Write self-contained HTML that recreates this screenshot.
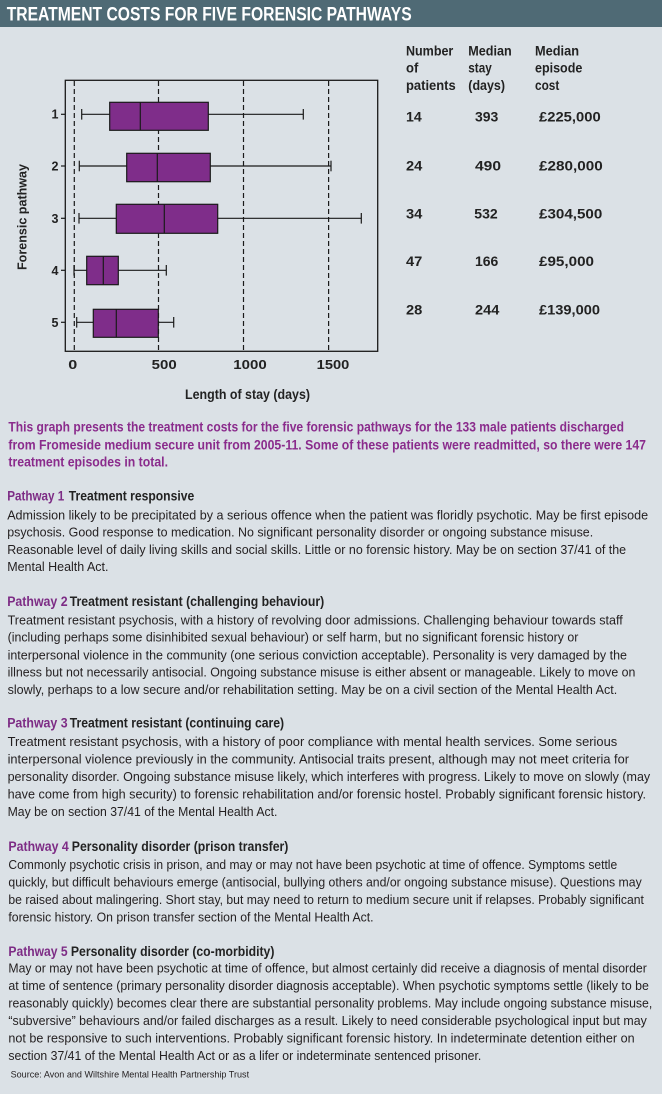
<!DOCTYPE html>
<html>
<head>
<meta charset="utf-8">
<style>
html,body{margin:0;padding:0;background:#dbe1e6;}
svg{display:block;}
text{font-family:"Liberation Sans",Arial,sans-serif;}
.b{font-weight:bold;}
</style>
</head>
<body>
<svg width="662" height="1094" viewBox="0 0 662 1094" xmlns="http://www.w3.org/2000/svg">
<rect x="0" y="0" width="662" height="1094" fill="#dbe1e6"/>
<rect x="0" y="0" width="662" height="27" fill="#4f6a75"/>
<text x="6.7" y="20.7" font-size="19" class="b" fill="#ffffff" textLength="405" lengthAdjust="spacingAndGlyphs">TREATMENT COSTS FOR FIVE FORENSIC PATHWAYS</text>

<!-- plot frame -->
<rect x="65.3" y="80.3" width="312.4" height="271" fill="none" stroke="#1a1a1a" stroke-width="1.3"/>
<g stroke="#1a1a1a" stroke-width="1.2" stroke-dasharray="5 3">
<line x1="74.3" y1="81" x2="74.3" y2="351"/>
<line x1="158.5" y1="81" x2="158.5" y2="351"/>
<line x1="243.5" y1="81" x2="243.5" y2="351"/>
<line x1="328.6" y1="81" x2="328.6" y2="351"/>
</g>

<!-- boxes -->
<g stroke="#1a1a1a" stroke-width="1.2">
<!-- 1 -->
<line x1="81.7" y1="114.3" x2="303.3" y2="114.3"/>
<line x1="81.7" y1="109" x2="81.7" y2="119.6"/>
<line x1="303.3" y1="109" x2="303.3" y2="119.6"/>
<rect x="109.7" y="102.3" width="98.6" height="28" fill="#7f2d8a"/>
<line x1="140.3" y1="102.3" x2="140.3" y2="130.3"/>
<!-- 2 -->
<line x1="79.3" y1="166" x2="331" y2="166"/>
<line x1="79.3" y1="160.7" x2="79.3" y2="171.3"/>
<line x1="331" y1="160.7" x2="331" y2="171.3"/>
<rect x="126.7" y="153.3" width="83.6" height="28.4" fill="#7f2d8a"/>
<line x1="157.3" y1="153.3" x2="157.3" y2="181.7"/>
<!-- 3 -->
<line x1="79" y1="218.3" x2="361.3" y2="218.3"/>
<line x1="79" y1="213" x2="79" y2="223.6"/>
<line x1="361.3" y1="213" x2="361.3" y2="223.6"/>
<rect x="116.3" y="204.3" width="101.4" height="29" fill="#7f2d8a"/>
<line x1="164.3" y1="204.3" x2="164.3" y2="233.3"/>
<!-- 4 -->
<line x1="74" y1="270.3" x2="166.3" y2="270.3"/>
<line x1="74" y1="265" x2="74" y2="275.6"/>
<line x1="166.3" y1="265" x2="166.3" y2="275.6"/>
<rect x="86.7" y="256.3" width="31.6" height="28.4" fill="#7f2d8a"/>
<line x1="103.3" y1="256.3" x2="103.3" y2="284.7"/>
<!-- 5 -->
<line x1="76.7" y1="322.3" x2="173.7" y2="322.3"/>
<line x1="76.7" y1="317" x2="76.7" y2="327.6"/>
<line x1="173.7" y1="317" x2="173.7" y2="327.6"/>
<rect x="93.3" y="309.3" width="65" height="28" fill="#7f2d8a"/>
<line x1="116.3" y1="309.3" x2="116.3" y2="337.3"/>
<!-- y ticks -->
<line x1="61" y1="114.3" x2="65.3" y2="114.3"/>
<line x1="61" y1="166" x2="65.3" y2="166"/>
<line x1="61" y1="218.3" x2="65.3" y2="218.3"/>
<line x1="61" y1="270.3" x2="65.3" y2="270.3"/>
<line x1="61" y1="322.3" x2="65.3" y2="322.3"/>
</g>

<g class="b" font-size="12.5" fill="#222" text-anchor="end">
<text x="58.5" y="118.5">1</text>
<text x="58.5" y="170.3">2</text>
<text x="58.5" y="222.8">3</text>
<text x="58.5" y="275">4</text>
<text x="58.5" y="327">5</text>
</g>
<g class="b" font-size="12.5" fill="#222">
<text x="68.3" y="369" textLength="9" lengthAdjust="spacingAndGlyphs">0</text>
<text x="151.7" y="369" textLength="25" lengthAdjust="spacingAndGlyphs">500</text>
<text x="233.3" y="369" textLength="33.4" lengthAdjust="spacingAndGlyphs">1000</text>
<text x="316.7" y="369" textLength="32.6" lengthAdjust="spacingAndGlyphs">1500</text>
</g>
<text x="185" y="399" font-size="14" class="b" fill="#222" textLength="125" lengthAdjust="spacingAndGlyphs">Length of stay (days)</text>
<text transform="translate(26.7,217) rotate(-90)" text-anchor="middle" font-size="12.5" class="b" fill="#222" textLength="106" lengthAdjust="spacingAndGlyphs">Forensic pathway</text>

<!-- table -->
<g class="b" font-size="14" fill="#222">
<text x="406" y="55.7" textLength="47.3" lengthAdjust="spacingAndGlyphs">Number</text>
<text x="468.3" y="55.7" textLength="43.4" lengthAdjust="spacingAndGlyphs">Median</text>
<text x="535" y="55.7" textLength="44" lengthAdjust="spacingAndGlyphs">Median</text>
<text x="406" y="72.3" textLength="12.3" lengthAdjust="spacingAndGlyphs">of</text>
<text x="468.3" y="72.3" textLength="23.4" lengthAdjust="spacingAndGlyphs">stay</text>
<text x="535" y="72.3" textLength="47.3" lengthAdjust="spacingAndGlyphs">episode</text>
<text x="406" y="90" textLength="49.7" lengthAdjust="spacingAndGlyphs">patients</text>
<text x="468.3" y="90" textLength="36.7" lengthAdjust="spacingAndGlyphs">(days)</text>
<text x="535" y="90" textLength="24.3" lengthAdjust="spacingAndGlyphs">cost</text>

<text x="406" y="121.7" textLength="15.7" lengthAdjust="spacingAndGlyphs">14</text>
<text x="475" y="121.7" textLength="23.3" lengthAdjust="spacingAndGlyphs">393</text>
<text x="539" y="121.7" textLength="61.7" lengthAdjust="spacingAndGlyphs">£225,000</text>

<text x="406" y="170.7" textLength="16.3" lengthAdjust="spacingAndGlyphs">24</text>
<text x="475" y="170.7" textLength="26" lengthAdjust="spacingAndGlyphs">490</text>
<text x="539" y="170.7" textLength="63.7" lengthAdjust="spacingAndGlyphs">£280,000</text>

<text x="406" y="218.3" textLength="16.3" lengthAdjust="spacingAndGlyphs">34</text>
<text x="474.3" y="218.3" textLength="23.4" lengthAdjust="spacingAndGlyphs">532</text>
<text x="539" y="218.3" textLength="63.3" lengthAdjust="spacingAndGlyphs">£304,500</text>

<text x="406" y="266" textLength="16.3" lengthAdjust="spacingAndGlyphs">47</text>
<text x="475" y="266" textLength="23.3" lengthAdjust="spacingAndGlyphs">166</text>
<text x="539" y="266" textLength="55" lengthAdjust="spacingAndGlyphs">£95,000</text>

<text x="406" y="314.3" textLength="16.3" lengthAdjust="spacingAndGlyphs">28</text>
<text x="475" y="314.3" textLength="24.3" lengthAdjust="spacingAndGlyphs">244</text>
<text x="539" y="314.3" textLength="61" lengthAdjust="spacingAndGlyphs">£139,000</text>
</g>

<!-- purple intro -->
<g class="b" font-size="13.5" fill="#8a2b8c">
<text x="8.4" y="431.7" textLength="615.6" lengthAdjust="spacingAndGlyphs">This graph presents the treatment costs for the five forensic pathways for the 133 male patients discharged</text>
<text x="8.4" y="449.3" textLength="637.6" lengthAdjust="spacingAndGlyphs">from Fromeside medium secure unit from 2005-11. Some of these patients were readmitted, so there were 147</text>
<text x="8.4" y="466.7" textLength="159.6" lengthAdjust="spacingAndGlyphs">treatment episodes in total.</text>
</g>

<!-- headings -->
<g class="b" font-size="13.5">
<text x="7.2" y="500.7" fill="#7d2c85" textLength="57" lengthAdjust="spacingAndGlyphs">Pathway 1</text>
<text x="68.8" y="500.7" fill="#222" textLength="125.4" lengthAdjust="spacingAndGlyphs">Treatment responsive</text>
<text x="7.2" y="606" fill="#7d2c85" textLength="60.4" lengthAdjust="spacingAndGlyphs">Pathway 2</text>
<text x="69.7" y="606" fill="#222" textLength="254.5" lengthAdjust="spacingAndGlyphs">Treatment resistant (challenging behaviour)</text>
<text x="7.2" y="727.7" fill="#7d2c85" textLength="60.4" lengthAdjust="spacingAndGlyphs">Pathway 3</text>
<text x="69.7" y="727.7" fill="#222" textLength="214.4" lengthAdjust="spacingAndGlyphs">Treatment resistant (continuing care)</text>
<text x="8.4" y="851" fill="#7d2c85" textLength="60.4" lengthAdjust="spacingAndGlyphs">Pathway 4</text>
<text x="71.8" y="851" fill="#222" textLength="216.6" lengthAdjust="spacingAndGlyphs">Personality disorder (prison transfer)</text>
<text x="8.4" y="956" fill="#7d2c85" textLength="59.2" lengthAdjust="spacingAndGlyphs">Pathway 5</text>
<text x="70.9" y="956" fill="#222" textLength="203.5" lengthAdjust="spacingAndGlyphs">Personality disorder (co-morbidity)</text>
</g>

<!-- body -->
<g font-size="13" fill="#231f20">
<text x="7.2" y="519.3" textLength="640.9" lengthAdjust="spacingAndGlyphs">Admission likely to be precipitated by a serious offence when the patient was floridly psychotic. May be first episode</text>
<text x="7.2" y="536.7" textLength="586" lengthAdjust="spacingAndGlyphs">psychosis. Good response to medication. No significant personality disorder or ongoing substance misuse.</text>
<text x="7.2" y="554" textLength="618.9" lengthAdjust="spacingAndGlyphs">Reasonable level of daily living skills and social skills. Little or no forensic history. May be on section 37/41 of the</text>
<text x="7.2" y="571" textLength="101.3" lengthAdjust="spacingAndGlyphs">Mental Health Act.</text>

<text x="7.6" y="624.3" textLength="615.1" lengthAdjust="spacingAndGlyphs">Treatment resistant psychosis, with a history of revolving door admissions. Challenging behaviour towards staff</text>
<text x="7.6" y="641.7" textLength="570.8" lengthAdjust="spacingAndGlyphs">(including perhaps some disinhibited sexual behaviour) or self harm, but no significant forensic history or</text>
<text x="7.6" y="659.3" textLength="619.4" lengthAdjust="spacingAndGlyphs">interpersonal violence in the community (one serious conviction acceptable). Personality is very damaged by the</text>
<text x="7.6" y="676.7" textLength="627.8" lengthAdjust="spacingAndGlyphs">illness but not necessarily antisocial. Ongoing substance misuse is either absent or manageable. Likely to move on</text>
<text x="7.6" y="694" textLength="609.6" lengthAdjust="spacingAndGlyphs">slowly, perhaps to a low secure and/or rehabilitation setting. May be on a civil section of the Mental Health Act.</text>

<text x="7.6" y="746" textLength="609.6" lengthAdjust="spacingAndGlyphs">Treatment resistant psychosis, with a history of poor compliance with mental health services. Some serious</text>
<text x="7.6" y="763.5" textLength="621.4" lengthAdjust="spacingAndGlyphs">interpersonal violence previously in the community. Antisocial traits present, although may not meet criteria for</text>
<text x="7.6" y="781" textLength="642.6" lengthAdjust="spacingAndGlyphs">personality disorder. Ongoing substance misuse likely, which interferes with progress. Likely to move on slowly (may</text>
<text x="7.6" y="798.5" textLength="638.4" lengthAdjust="spacingAndGlyphs">have come from high security) to forensic rehabilitation and/or forensic hostel. Probably significant forensic history.</text>
<text x="7.6" y="816" textLength="269.8" lengthAdjust="spacingAndGlyphs">May be on section 37/41 of the Mental Health Act.</text>

<text x="8.4" y="869" textLength="608.8" lengthAdjust="spacingAndGlyphs">Commonly psychotic crisis in prison, and may or may not have been psychotic at time of offence. Symptoms settle</text>
<text x="8.4" y="886.5" textLength="633.3" lengthAdjust="spacingAndGlyphs">quickly, but difficult behaviours emerge (antisocial, bullying others and/or ongoing substance misuse). Questions may</text>
<text x="8.4" y="904" textLength="635.5" lengthAdjust="spacingAndGlyphs">be raised about malingering. Short stay, but may need to return to medium secure unit if relapses. Probably significant</text>
<text x="8.4" y="921.5" textLength="365.2" lengthAdjust="spacingAndGlyphs">forensic history. On prison transfer section of the Mental Health Act.</text>

<text x="8.4" y="972.5" textLength="638.4" lengthAdjust="spacingAndGlyphs">May or may not have been psychotic at time of offence, but almost certainly did receive a diagnosis of mental disorder</text>
<text x="8.4" y="990" textLength="640.5" lengthAdjust="spacingAndGlyphs">at time of sentence (primary personality disorder diagnosis acceptable). When psychotic symptoms settle (likely to be</text>
<text x="8.4" y="1007.5" textLength="643.9" lengthAdjust="spacingAndGlyphs">reasonably quickly) becomes clear there are substantial personality problems. May include ongoing substance misuse,</text>
<text x="8.4" y="1025" textLength="638.4" lengthAdjust="spacingAndGlyphs">“subversive” behaviours and/or failed discharges as a result. Likely to need considerable psychological input but may</text>
<text x="8.4" y="1042.5" textLength="626.2" lengthAdjust="spacingAndGlyphs">not be responsive to such interventions. Probably significant forensic history. In indeterminate detention either on</text>
<text x="8.4" y="1060" textLength="472.9" lengthAdjust="spacingAndGlyphs">section 37/41 of the Mental Health Act or as a lifer or indeterminate sentenced prisoner.</text>
</g>
<text x="10.6" y="1077.5" font-size="9" fill="#231f20" textLength="238.5" lengthAdjust="spacingAndGlyphs">Source: Avon and Wiltshire Mental Health Partnership Trust</text>
</svg>
</body>
</html>
